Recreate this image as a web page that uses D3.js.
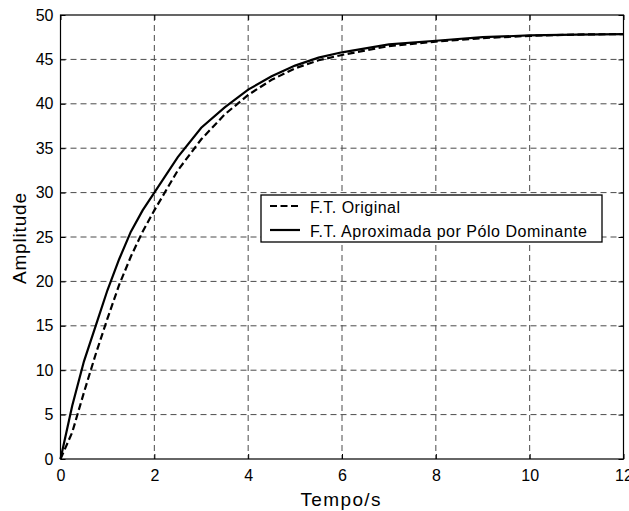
<!DOCTYPE html>
<html><head><meta charset="utf-8">
<script src="https://cdn.jsdelivr.net/npm/d3@7"></script>
<style>body{margin:0;background:#fff}svg{display:block;font-family:"Liberation Sans",Arial,sans-serif}</style>
</head><body><svg id="c" width="629" height="511"></svg>
<script>
const time = [0,0.25,0.5,0.75,1,1.25,1.5,1.75,2,2.5,3,3.5,4,4.5,5,5.5,6,7,8,9,10,11,12];
const original = [0,3.0,7.5,11.8,15.8,19.6,22.8,25.6,28.0,32.5,36.0,38.8,41.0,42.7,44.0,44.9,45.5,46.5,47.0,47.4,47.65,47.8,47.85];
const aproximada = [0,6.0,11.0,15.0,19.0,22.5,25.6,28.0,30.0,34.0,37.3,39.6,41.6,43.1,44.3,45.2,45.8,46.7,47.1,47.5,47.7,47.8,47.85];
const xTicks = [0,2,4,6,8,10,12];
const yTicks = [0,5,10,15,20,25,30,35,40,45,50];
const legendLabels = ["F.T. Original","F.T. Aproximada por Pólo Dominante"];
const xLabel = "Tempo/s", yLabel = "Amplitude";

const svg = d3.select("#c");
const L=60.5, R=623.5, T=15, B=459;
const x = d3.scaleLinear().domain([0,12]).range([L,R]);
const y = d3.scaleLinear().domain([0,50]).range([B,T]);

// grid
const g = svg.append("g");
g.selectAll(".gx").data(xTicks.filter(d=>d>0&&d<12)).enter().append("line")
  .attr("x1",d=>x(d)).attr("x2",d=>x(d)).attr("y1",T).attr("y2",B)
  .attr("stroke","#4a4a4a").attr("stroke-width",1).attr("stroke-dasharray","6,4");
g.selectAll(".gy").data(yTicks.filter(d=>d>0&&d<50)).enter().append("line")
  .attr("y1",d=>y(d)).attr("y2",d=>y(d)).attr("x1",L).attr("x2",R)
  .attr("stroke","#4a4a4a").attr("stroke-width",1).attr("stroke-dasharray","6,4");

// axes
svg.append("g").attr("transform",`translate(0,${B})`)
  .call(d3.axisBottom(x).tickValues(xTicks).tickSize(-5).tickPadding(11).tickFormat(d3.format("d")));
svg.append("g").attr("transform",`translate(${L},0)`)
  .call(d3.axisLeft(y).tickValues(yTicks).tickSize(-5).tickPadding(7).tickFormat(d3.format("d")));
svg.append("g").attr("transform",`translate(0,${T})`)
  .call(d3.axisTop(x).tickValues(xTicks).tickSize(-5).tickFormat(""));
svg.append("g").attr("transform",`translate(${R},0)`)
  .call(d3.axisRight(y).tickValues(yTicks).tickSize(-5).tickFormat(""));
svg.selectAll(".domain").remove();
svg.selectAll(".tick line").attr("stroke","#000");
svg.selectAll(".tick text").attr("font-size",16).attr("fill","#000").attr("font-family","Liberation Sans, Arial, sans-serif");
svg.append("rect").attr("x",L).attr("y",T).attr("width",R-L).attr("height",B-T)
  .attr("fill","none").attr("stroke","#000").attr("stroke-width",1.2);

// curves
const line = d3.line().x((d,i)=>x(time[i])).y(d=>y(d));
svg.append("path").datum(original).attr("d",line).attr("fill","none")
  .attr("stroke","#000").attr("stroke-width",2.2).attr("stroke-dasharray","7,3.5");
svg.append("path").datum(aproximada).attr("d",line).attr("fill","none")
  .attr("stroke","#000").attr("stroke-width",2.2);

// labels
svg.append("text").attr("x",340.5).attr("y",506).attr("text-anchor","middle")
  .attr("font-size",19).attr("textLength",80).attr("lengthAdjust","spacing").text(xLabel);
svg.append("text").attr("transform",`translate(26,238.5) rotate(-90)`).attr("text-anchor","middle")
  .attr("font-size",19).attr("textLength",91).attr("lengthAdjust","spacing").text(yLabel);

// legend
const lg = svg.append("g");
lg.append("rect").attr("x",261).attr("y",195).attr("width",341).attr("height",47)
  .attr("fill","#fff").attr("stroke","#000").attr("stroke-width",1.3);
const dashes = ["7,3.5",null];
const widths = [90,277];
legendLabels.forEach((t,i)=>{
  const yy = 206 + i*24;
  lg.append("line").attr("x1",270).attr("x2",300).attr("y1",yy).attr("y2",yy)
    .attr("stroke","#000").attr("stroke-width",2.2).attr("stroke-dasharray",dashes[i]);
  lg.append("text").attr("x",310).attr("y",yy+6.5).attr("font-size",16)
    .attr("textLength",widths[i]).attr("lengthAdjust","spacing").text(t);
});
</script></body></html>
